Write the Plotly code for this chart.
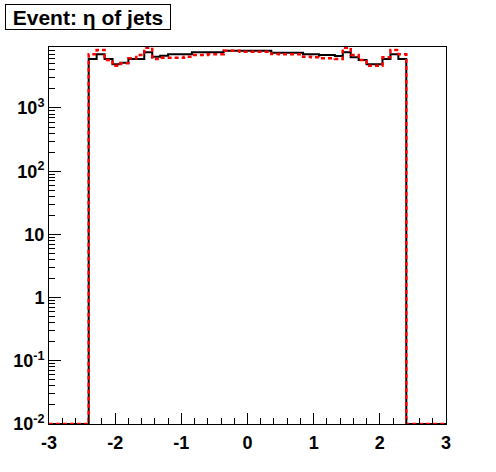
import numpy as np
import plotly.graph_objects as go

# 50 bins from -3 to 3 (width 0.12)
bin_edges = np.linspace(-3, 3, 51)

# bin contents, outermost 5 bins on each side are empty
jets_black = [0, 0, 0, 0, 0,
              5960, 7080, 5960, 4910, 5210, 5960, 5960, 7610, 6490, 6730,
              7080, 7080, 7080, 7610, 7610, 7610, 7610, 8070, 8070, 8070,
              8070, 8070, 8070, 7500, 7500, 7500, 7500, 7080, 7080, 6900,
              6900, 6650, 7610, 6340, 5740, 4910, 4910, 5960, 7080, 5960,
              0, 0, 0, 0, 0]
jets_red = [0, 0, 0, 0, 0,
            7080, 8280, 5740, 4670, 5100, 6110, 6900, 9000, 5960, 6250,
            6250, 6250, 6490, 6900, 6900, 7080, 7080, 8070, 8070, 7780,
            7780, 7780, 7780, 7150, 7080, 7080, 7080, 6490, 6340, 6110,
            6110, 5960, 9000, 6900, 5740, 4670, 4670, 6340, 8280, 7080,
            0, 0, 0, 0, 0]

y_min = 1e-2
y_max = 9226

y_tickvals = [1e-2, 1e-1, 1, 10, 100, 1000]
y_ticktext = ["10<sup>-2</sup>", "10<sup>-1</sup>", "1", "10",
              "10<sup>2</sup>", "10<sup>3</sup>"]


def step_xy(counts):
    # empty bins sit on the bottom of the log axis, as ROOT draws them
    c = np.clip(np.array(counts, dtype=float), y_min, None)
    xs = list(bin_edges)
    ys = list(c) + [c[-1]]
    return xs, ys


fig = go.Figure()

xb, yb = step_xy(jets_black)
fig.add_trace(go.Scatter(x=xb, y=yb, mode="lines", line_shape="hv",
                         line=dict(color="black", width=2)))

xr, yr = step_xy(jets_red)
fig.add_trace(go.Scatter(x=xr, y=yr, mode="lines", line_shape="hv",
                         line=dict(color="#ff0000", width=2.5, dash="4px,3px")))

fig.add_annotation(
    text="<b>Event: η of jets</b>",
    xref="paper", yref="paper", x=-0.111, y=1.114,
    xanchor="left", yanchor="top", showarrow=False,
    width=164, height=24, align="center", valign="middle",
    font=dict(family="Liberation Sans, Arial, sans-serif", size=21, color="black"),
    bgcolor="white", bordercolor="black", borderwidth=1, borderpad=0,
)

axis_font = dict(family="Liberation Sans, Arial, sans-serif", size=18, color="black")

fig.update_layout(
    width=496, height=472,
    margin=dict(l=49, r=50, t=47, b=48),
    plot_bgcolor="white", paper_bgcolor="white",
    showlegend=False,
    xaxis=dict(
        range=[-3, 3], tickvals=[-3, -2, -1, 0, 1, 2, 3],
        ticktext=["<b>-3</b>", "<b>-2</b>", "<b>-1</b>", "<b>0</b>",
                  "<b>1</b>", "<b>2</b>", "<b>3</b>"],
        ticks="inside", ticklen=11, tickcolor="black", tickwidth=1,
        minor=dict(dtick=0.2, tick0=0, ticks="inside", ticklen=6,
                   tickcolor="black", showgrid=False),
        showline=True, linecolor="black", linewidth=1, mirror=True,
        showgrid=False, zeroline=False, tickfont=axis_font,
        automargin=False, ticklabelstandoff=2,
    ),
    yaxis=dict(
        type="log", range=[np.log10(y_min), np.log10(y_max)],
        tickvals=y_tickvals,
        ticktext=["<b>" + t + "</b>" for t in y_ticktext],
        ticks="inside", ticklen=12, tickcolor="black", tickwidth=1,
        minor=dict(dtick="D1", ticks="inside", ticklen=6,
                   tickcolor="black", showgrid=False),
        showline=True, linecolor="black", linewidth=1, mirror=True,
        showgrid=False, zeroline=False, tickfont=axis_font,
        automargin=False,
    ),
)

# drop the browser's default page margin so the figure sits at (0, 0)
fig.write_html("out.html", config={"displayModeBar": False},
               post_script="document.body.style.margin='0';")
